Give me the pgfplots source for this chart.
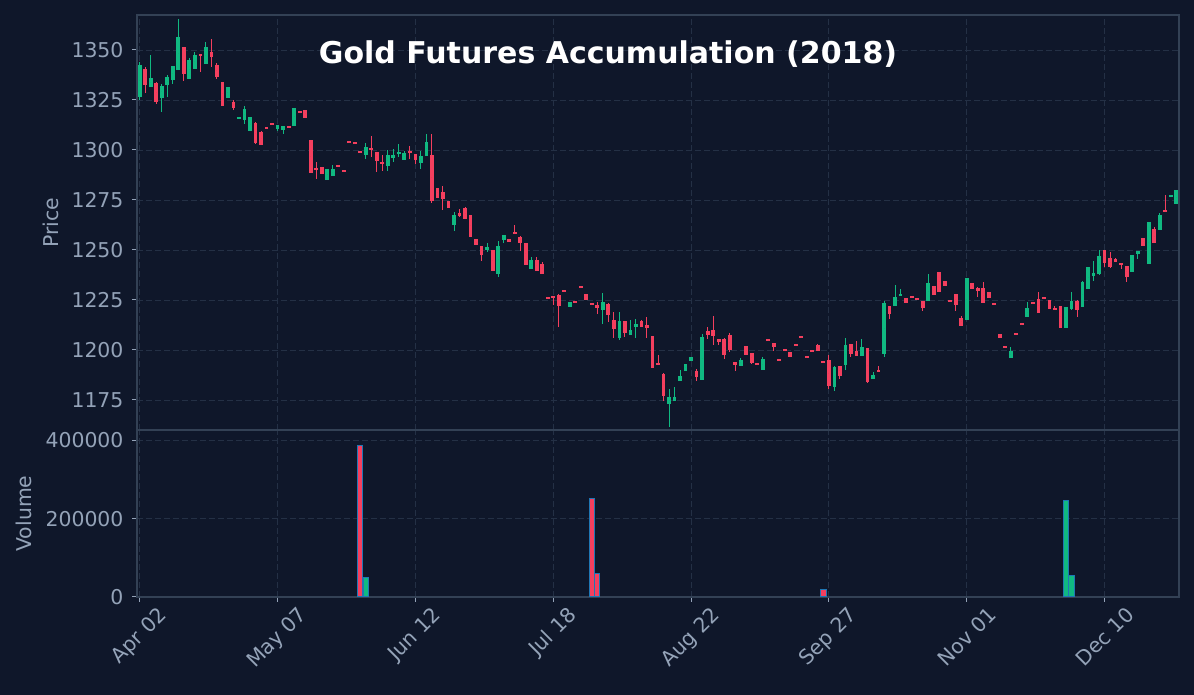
\documentclass[border=0pt]{standalone}
\usepackage{fontspec}
\setmainfont{DejaVu Sans}
\usepackage{graphicx}
\usepackage{pgfplots}
\usepackage{pgfplotstable}
\pgfplotsset{compat=1.18}
\definecolor{bg}{HTML}{0F172A}
\definecolor{spine}{HTML}{334155}
\definecolor{gridc}{HTML}{243045}
\definecolor{tickc}{HTML}{94A3B8}
\definecolor{upc}{HTML}{10B981}
\definecolor{dnc}{HTML}{F43F5E}
\definecolor{edgec}{HTML}{1F77B4}

% green (up) candles: index open high low close
\pgfplotstableread{
x o h l c
0 1326.7 1344.2 1325 1342.5
2 1331.7 1347.5 1331.7 1336
4 1326.2 1332.8 1318.8 1332
5 1332.5 1337.5 1326.7 1336.5
6 1335 1342 1332.8 1342
7 1340.2 1365.5 1340.2 1356.5
9 1335.7 1346.2 1335.7 1345
10 1340.7 1348.8 1340.7 1347.5
12 1343.2 1354.2 1343.2 1351.5
16 1326.2 1331.5 1326.2 1331.5
18 1316 1316.5 1316 1316.5
19 1315 1322 1312.8 1320.5
20 1309.5 1316.5 1309.5 1316.5
25 1310.3 1312.5 1309.7 1312.5
26 1310 1312 1308.2 1312
28 1312.2 1321 1312.2 1321
34 1285.2 1290.5 1285.2 1290.5
35 1287.2 1292.5 1287.2 1290.5
41 1297.5 1303.7 1295.3 1301.5
45 1292.2 1300 1289.7 1297.5
46 1296.2 1300.3 1294.2 1297.7
47 1297.8 1303 1296.7 1299
48 1295 1299.5 1295 1298.5
51 1293.3 1299.5 1290.7 1297
52 1297.2 1308 1297.2 1304
57 1262.5 1268.8 1259.7 1267.5
63 1250 1253.3 1249.2 1251.5
65 1238 1254.5 1236.7 1252
66 1255 1257.5 1253.7 1257.5
71 1240.5 1246.7 1240.5 1245
78 1221.7 1224 1221.7 1224
84 1220 1228.3 1212.8 1224
87 1206.2 1218.8 1205 1214.5
89 1207.5 1215 1207.5 1210
90 1211.7 1215.5 1205.8 1213
96 1173 1180.3 1161.3 1176.3
97 1174.5 1181.3 1174.5 1176.5
98 1184.5 1190 1184.5 1187
99 1189.5 1193 1189.5 1193
100 1194.5 1196.5 1194.5 1196.5
102 1185 1208 1185 1206.7
109 1192 1196 1192 1195
113 1190 1196.7 1190 1195.5
126 1181.7 1192 1179.7 1191.7
128 1192.5 1205.8 1190 1202.5
131 1197 1205.3 1197 1201.3
133 1185.5 1189.2 1185.5 1187.5
135 1198 1224.7 1196.3 1223.7
137 1222.2 1232.5 1222.2 1226.5
138 1227.2 1230.3 1227.2 1227.7
143 1224.7 1238 1224.7 1233.5
150 1215 1235.8 1215 1235.8
158 1196.2 1201.3 1196.2 1199.5
161 1216.7 1223.8 1216.7 1221
168 1211.2 1221.5 1211.2 1221.5
169 1220.5 1228.8 1220 1224.5
171 1221.7 1234.5 1221.3 1234
172 1230.5 1241.5 1230.5 1241.5
173 1237.2 1244.3 1234.7 1238.5
174 1238 1250 1237.5 1247
180 1239 1247.5 1239 1247.5
181 1248 1249.5 1245.5 1249.5
183 1243 1264 1243 1264
185 1260 1268.3 1260 1267.5
187 1276.7 1277.5 1276.7 1277.5
188 1273 1280 1273 1280
}\up

% red (down) candles
\pgfplotstableread{
x o h l c
1 1340.5 1341.7 1328.3 1332.5
3 1333.5 1334.2 1322.8 1324.2
8 1351.5 1351.5 1334.7 1338.2
11 1348 1348 1338.8 1347.2
13 1349 1355.3 1341.7 1346.7
14 1342.5 1343.3 1335.5 1336.5
15 1334 1334 1322.2 1322.2
17 1323.8 1325 1320 1321.2
21 1313.5 1314 1303 1303.3
22 1309 1309.5 1302.5 1302.5
23 1311 1311 1310.7 1310.7
24 1313 1313 1312.7 1312.7
27 1311.5 1311.5 1311.2 1311.2
29 1319 1319 1318.7 1318.7
30 1320 1320 1316 1316
31 1305 1305 1288.7 1288.7
32 1291 1293.8 1285.3 1290.2
33 1291.5 1291.5 1288.2 1288.2
36 1292.2 1292.2 1291.9 1291.9
37 1289.6 1289.6 1289.3 1289.3
38 1304 1304 1303.7 1303.7
39 1303.5 1303.5 1303.2 1303.2
40 1299 1299 1298.7 1298.7
42 1301 1307 1296.7 1300
43 1299 1299 1288.8 1294.7
44 1294 1297.3 1289.7 1293.2
49 1299.5 1302 1295.3 1298.5
50 1298.2 1298.2 1292.8 1295
53 1297.5 1307.8 1273.7 1274.7
54 1281 1281 1276.2 1276.2
55 1279 1282 1270 1275.5
56 1274.5 1274.5 1271.2 1271.2
58 1268.7 1270.3 1266.7 1267.2
59 1270.8 1271.5 1265.7 1265.7
60 1267.5 1267.5 1256.7 1256.7
61 1255.3 1255.3 1252.5 1252.5
62 1252 1252 1244.7 1247.5
64 1250 1250 1239.7 1239.7
67 1255.5 1255.5 1254.2 1254.2
68 1258.5 1262.5 1257.8 1258.2
69 1256.5 1257 1249.5 1253.7
70 1253.5 1253.5 1242.7 1242.7
72 1245 1246.7 1239.7 1239.7
73 1243 1243.8 1238.2 1238.2
74 1226.2 1226.2 1225.9 1225.9
75 1227 1227 1222.5 1225.8
76 1227.5 1227.8 1211.7 1222.2
77 1229.5 1229.5 1229.2 1229.2
79 1224 1224 1223.7 1223.7
80 1231.5 1231.5 1231.2 1231.2
81 1228 1228 1225.2 1225.2
82 1223 1223 1222.7 1222.7
83 1222.5 1224.2 1218.2 1221.2
85 1222.8 1223.7 1214.2 1217.5
86 1215 1219.2 1205.8 1210.5
88 1214.5 1214.5 1206.7 1208.3
91 1214.5 1215 1211.5 1211.5
92 1212.5 1216.3 1205.8 1211.2
93 1207 1207 1191.2 1191.2
94 1193.5 1197.5 1192.5 1192.5
95 1188 1188.3 1174.7 1177
101 1189.5 1190.5 1184.7 1186.3
103 1209.5 1211.7 1205.3 1207.3
104 1210 1217 1202.3 1207
105 1205.5 1205.5 1202.3 1203.8
106 1205.5 1206.2 1195.5 1197.5
107 1207.5 1208.3 1199.2 1200
108 1194 1194 1189.5 1192.5
110 1202 1202 1197.5 1197.5
111 1198.5 1198.5 1193 1193.7
112 1193 1193 1192.7 1192.7
114 1205 1205 1204.7 1204.7
115 1203.5 1203.5 1199.7 1201.5
116 1195 1195 1194.7 1194.7
117 1200 1200 1199.7 1199.7
118 1199 1199 1196.5 1196.5
119 1202.5 1202.5 1202.2 1202.2
120 1206.5 1206.5 1206.2 1206.2
121 1196.5 1196.5 1196.2 1196.2
122 1199.5 1199.5 1199.2 1199.2
123 1202.5 1203 1199.5 1199.5
124 1194 1194 1193.7 1193.7
125 1195 1197.5 1180.3 1182
127 1192 1192 1185.5 1187
129 1203 1203 1196.7 1198
130 1199.5 1204.7 1197 1197
132 1200.8 1200.8 1183.3 1184.2
134 1189.6 1192 1189.3 1189.3
136 1222 1222 1215.7 1218
139 1226 1226 1223.7 1223.7
140 1226.5 1226.5 1226.2 1226.2
141 1225.5 1225.5 1225.2 1225.2
142 1224.5 1224.5 1219.7 1221.2
144 1232 1232 1227.7 1227.7
145 1239 1239 1229 1229
146 1234.5 1234.5 1232.2 1232.2
147 1224.5 1224.5 1224.2 1224.2
148 1228 1228 1219.7 1222.7
149 1216 1217 1212.2 1212.2
151 1233.3 1233.3 1230.7 1230.7
152 1231 1231.3 1226.7 1229.5
153 1231 1234 1223.7 1223.7
154 1228.8 1228.8 1226.2 1226.2
155 1223.2 1223.2 1222.9 1222.9
156 1208 1208 1206.2 1206.2
157 1202 1202 1201.2 1201.2
159 1208.2 1208.2 1207.9 1207.9
160 1213 1213 1212.7 1212.7
162 1223.5 1223.5 1223.2 1223.2
163 1225.5 1228.8 1218.7 1218.7
164 1226 1226 1225.7 1225.7
165 1225 1225 1220.7 1220.7
166 1220.5 1222 1220.2 1220.2
167 1222 1222 1211.2 1211.2
170 1224.5 1225 1216.3 1220
175 1250 1250 1241.7 1243.5
176 1246 1249 1241 1241.5
177 1245.5 1246 1244 1244
178 1243.5 1243.5 1240.5 1242.5
179 1242 1242 1234.2 1236.5
182 1256 1256 1252 1252
184 1260.5 1261.3 1253.5 1253.5
186 1269.5 1277.5 1269 1269.2
}\dn

\pgfplotstableread{
x v
40 387000
82 253000
83 60700
124 18000
}\vdn
\pgfplotstableread{
x v
41 48700
168 246000
169 54000
}\vup

\pgfplotsset{
  base/.style={
    scale only axis, width=1042pt,
    xmin=-0.5, xmax=188.5,
    axis line style={spine, line width=1.2pt},
    grid=major,
    major grid style={gridc, dash pattern=on 5.7pt off 3.3pt, line width=0.9pt},
    tick align=outside, major tick length=5pt,
    tick style={tickc, line width=1pt},
    tick pos=left,
    /pgf/number format/assume math mode=true,
    tick label style={font=\fontsize{20.4}{24}\selectfont, text=tickc},
    yticklabel style={xshift=-5pt},
    label style={font=\fontsize{20.4}{24}\selectfont, text=tickc},
    xtick={0,25,...,175},
    scaled y ticks=false,
  },
  wick/.style={only marks, mark=*, mark options={scale=0, draw=none, fill=none}, forget plot,
    error bars/.cd, y dir=both, y explicit, error mark=none,
    error bar style={line width=1pt, color=#1}},
  body/.style={only marks, mark=*, mark options={scale=0, draw=none, fill=none}, forget plot,
    error bars/.cd, y dir=both, y explicit, error mark=none,
    error bar style={line width=3.8pt, color=#1}},
}

\begin{document}
\begin{tikzpicture}
\useasboundingbox (0,0) rectangle (1194pt,695pt);
\fill[bg] (0,0) rectangle (1194pt,695pt);

\begin{axis}[base, at={(137pt,265pt)}, anchor=south west, height=415pt,
  ymin=1160, ymax=1367.5,
  ytick={1175,1200,1225,1250,1275,1300,1325,1350},
  yticklabels={1175,1200,1225,1250,1275,1300,1325,1350},
  xticklabels={}, xmajorticks=false,
  ylabel={Price},
  ylabel style={at={(axis description cs:-0.0825,0.5)}, anchor=center, rotate=0}]
\addplot[wick=upc] table[x=x, y expr={(\thisrow{o}+\thisrow{c})/2},
  y error plus expr={\thisrow{h}-(\thisrow{o}+\thisrow{c})/2},
  y error minus expr={(\thisrow{o}+\thisrow{c})/2-\thisrow{l}}]{\up};
\addplot[wick=dnc] table[x=x, y expr={(\thisrow{o}+\thisrow{c})/2},
  y error plus expr={\thisrow{h}-(\thisrow{o}+\thisrow{c})/2},
  y error minus expr={(\thisrow{o}+\thisrow{c})/2-\thisrow{l}}]{\dn};
\addplot[body=upc] table[x=x, y expr={(\thisrow{o}+\thisrow{c})/2},
  y error expr={max(abs(\thisrow{c}-\thisrow{o})/2,0.5)}]{\up};
\addplot[body=dnc] table[x=x, y expr={(\thisrow{o}+\thisrow{c})/2},
  y error expr={max(abs(\thisrow{c}-\thisrow{o})/2,0.5)}]{\dn};
\end{axis}

\begin{axis}[base, at={(137pt,98pt)}, anchor=south west, height=167pt,
  ymin=0, ymax=427000,
  ytick={0,200000,400000}, yticklabels={0,200000,400000},
  xticklabels={\rotatebox{45}{Apr 02},\rotatebox{45}{May 07},\rotatebox{45}{Jun 12},\rotatebox{45}{Jul 18},\rotatebox{45}{Aug 22},\rotatebox{45}{Sep 27},\rotatebox{45}{Nov 01},\rotatebox{45}{Dec 10}},
  ylabel={Volume},
  ylabel style={at={(axis description cs:-0.1084,0.5)}, anchor=center}]
\addplot[ybar, bar width=0.95, bar shift=0pt, fill=dnc, draw=edgec, line width=1pt] table[x=x, y=v]{\vdn};
\addplot[ybar, bar width=0.95, bar shift=0pt, fill=upc, draw=edgec, line width=1pt] table[x=x, y=v]{\vup};
\end{axis}

\node[font=\fontsize{30}{36}\selectfont\bfseries, text=white] at (608pt,641pt) {Gold Futures Accumulation (2018)};
\end{tikzpicture}
\end{document}
